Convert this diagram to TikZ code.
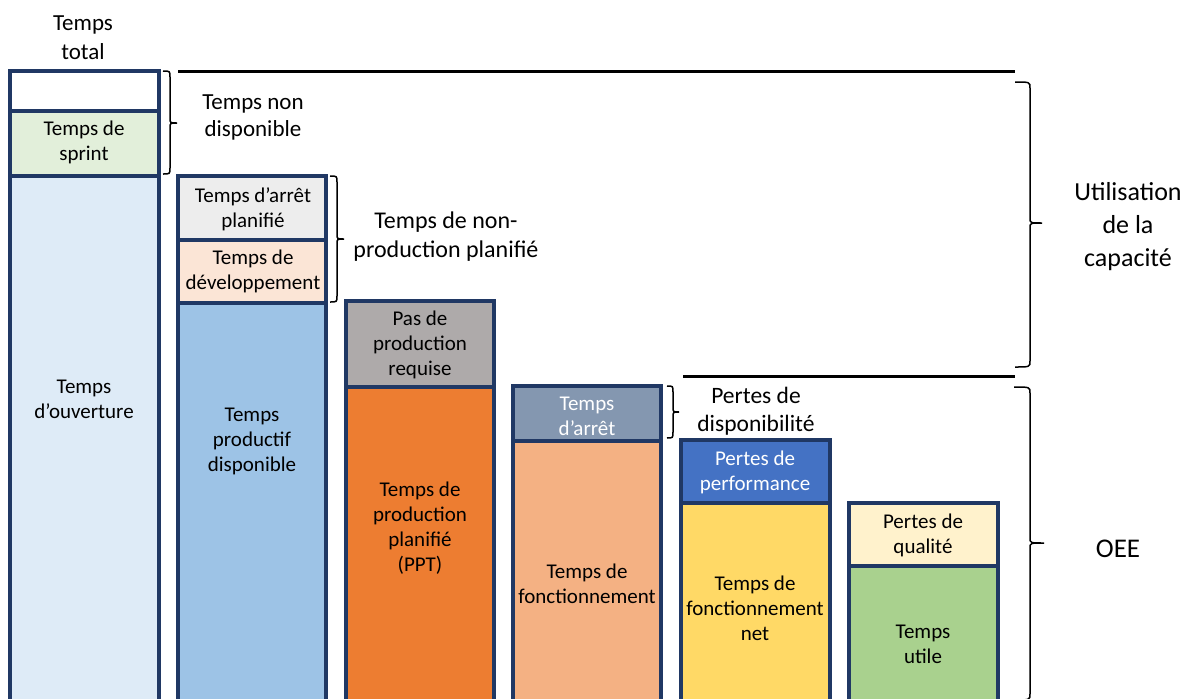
\documentclass[tikz,border=0pt]{standalone}
\usepackage{fontspec}
\setmainfont{Carlito}
\definecolor{navy}{HTML}{203864}
\definecolor{cSprint}{HTML}{E2EFDA}
\definecolor{cOuv}{HTML}{DEEBF7}
\definecolor{cArrPl}{HTML}{EDEDED}
\definecolor{cDev}{HTML}{FBE5D6}
\definecolor{cProd}{HTML}{9DC3E6}
\definecolor{cPas}{HTML}{AEAAAA}
\definecolor{cPPT}{HTML}{ED7D31}
\definecolor{cArr}{HTML}{8497B0}
\definecolor{cFonc}{HTML}{F4B183}
\definecolor{cPerf}{HTML}{4472C4}
\definecolor{cNet}{HTML}{FFD966}
\definecolor{cQual}{HTML}{FFF2CC}
\definecolor{cUtile}{HTML}{A9D18E}
\newcommand\RBrace[6]{% x0, top, bottom, tip y, hook width, tip length
  \draw[bracestyle] (#1,#2) .. controls (#1+#5,#2) .. (#1+#5,#2+6)
    -- (#1+#5,#4-5) .. controls (#1+#5,#4) .. (#1+#5+#6,#4)
    .. controls (#1+#5,#4) .. (#1+#5,#4+5)
    -- (#1+#5,#3-6) .. controls (#1+#5,#3) .. (#1,#3);}
\begin{document}
\begin{tikzpicture}[x=1pt,y=-1pt,
  seg/.style={draw=navy, line width=3.4pt},
  btxt/.style={font=\fontsize{21}{25}\selectfont, align=center, inner sep=0pt},
  lbl/.style={font=\fontsize{24}{29}\selectfont, align=center, inner sep=0pt},
  bracestyle/.style={line width=1.5pt, black},
  rulestyle/.style={line width=3pt, black}]
\useasboundingbox (0,0) rectangle (1192,699);
% column 1
\path[seg, fill=white] (10,71) rectangle (159,111);
\path[seg, fill=cSprint] (10,111) rectangle (159,176);
\path[seg, fill=cOuv] (10,176) rectangle (159,710);
% column 2
\path[seg, fill=cArrPl] (178,176) rectangle (326,240);
\path[seg, fill=cDev] (178,240) rectangle (326,303);
\path[seg, fill=cProd] (178,303) rectangle (326,710);
% column 3
\path[seg, fill=cPas] (346,301) rectangle (494,387);
\path[seg, fill=cPPT] (346,387) rectangle (494,710);
% column 4
\path[seg, fill=cArr] (513,386) rectangle (661,441);
\path[seg, fill=cFonc] (513,441) rectangle (661,710);
% column 5
\path[seg, fill=cPerf] (681,440) rectangle (830,503);
\path[seg, fill=cNet] (681,503) rectangle (830,710);
% column 6
\path[seg, fill=cQual] (849,503) rectangle (998,566);
\path[seg, fill=cUtile] (849,566) rectangle (998,710);
% box texts
\node[btxt] (sprint) at (84,142) {Temps de\\sprint};
\node[btxt] (ouv) at (84,399) {Temps\\d’ouverture};
\node[btxt] (arrpl) at (253,209) {Temps d’arrêt\\planifié};
\node[btxt] (dev) at (253,271) {Temps de\\développement};
\node[btxt] (prod) at (252,441) {Temps\\productif\\disponible};
\node[btxt] (pas) at (420,345) {Pas de\\production\\requise};
\node[btxt] (ppt) at (420,528) {Temps de\\production\\planifié\\(PPT)};
\node[btxt, text=white] (arr) at (587,416) {Temps\\d’arrêt};
\node[btxt] (fonc) at (587,584) {Temps de\\fonctionnement};
\node[btxt, text=white] (perf) at (755,472) {Pertes de\\performance};
\node[btxt] (net) at (755,608) {Temps de\\fonctionnement\\net};
\node[btxt] (qual) at (923,535) {Pertes de\\qualité};
\node[btxt] (utile) at (923,644) {Temps\\utile};
% labels
\node[lbl, font=\fontsize{23}{29}\selectfont] (total) at (83,38) {Temps\\total};
\node[lbl, font=\fontsize{23}{27}\selectfont] (nondisp) at (253,117) {Temps non\\disponible};
\node[lbl] (nonprod) at (446,237) {Temps de non-\\production planifié};
\node[lbl, font=\fontsize{23.5}{28}\selectfont] (pdisp) at (756,411) {Pertes de\\disponibilité};
\node[lbl, font=\fontsize{26}{33}\selectfont] (util) at (1128,227) {Utilisation\\de la\\capacité};
\node[lbl, font=\fontsize{27}{32}\selectfont] (oee) at (1118,549) {OEE};
% rules
\coordinate (r1a) at (178,71); \coordinate (r1b) at (1015,71);
\coordinate (r2a) at (683,376); \coordinate (r2b) at (1015,376);
\draw[rulestyle] (r1a) -- (r1b);
\draw[rulestyle] (r2a) -- (r2b);
% braces
\RBrace{163}{71}{174}{123}{7}{7}
\RBrace{330}{176}{302}{239}{7}{7}
\RBrace{667}{386}{438}{412}{6}{6}
\RBrace{1015}{82}{367}{223}{15}{12}
\RBrace{1014}{387}{700}{543}{16}{14}
\end{tikzpicture}
\end{document}
